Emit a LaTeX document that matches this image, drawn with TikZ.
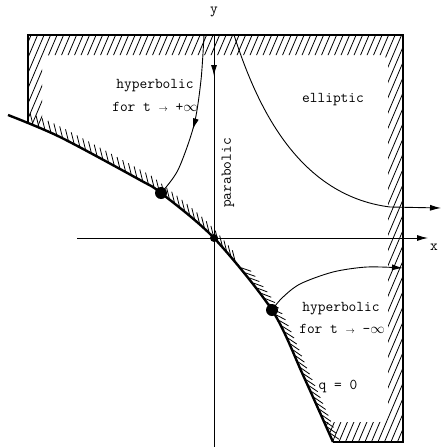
\documentclass[tikz,border=0pt]{standalone}
\usepackage{fontspec}
\usetikzlibrary{arrows.meta,decorations.markings}
\newcommand{\smallarrow}{{\fontsize{9}{9}\selectfont$\rightarrow$}}
\begin{document}
\begin{tikzpicture}[x=1pt,y=-1pt,
  thinline/.style={line width=0.9pt},
  hatchline/.style={line width=0.8pt},
  lbl/.style={font=\ttfamily\fontsize{15}{16}\selectfont, inner sep=0pt},
  tipend/.style={-{Latex[length=11pt,width=6pt]}},
  midtip/.style={postaction={decorate,decoration={markings,
     mark=at position #1 with {\arrow{Latex[length=11pt,width=6pt]}}}}},
]
\useasboundingbox (0,0) rectangle (442,447);

% named points
\coordinate (d1) at (161,193);
\coordinate (o) at (214,238);
\coordinate (d2) at (272,310);
\coordinate (yt) at (214,35);
\coordinate (yb) at (214,447);
\coordinate (xl) at (77,238);
\coordinate (xr) at (428,238);
\coordinate (h1) at (204,35);
\coordinate (e1) at (234,35);
\coordinate (e3) at (390,207);
\coordinate (e2) at (441,208);
\coordinate (h2) at (403,268);

% box hatching
\begin{scope}
  \clip (28,35) rectangle (403,442);
  \clip (28,35) -- (403,35) -- (403,442) -- plot[smooth] coordinates {(333,442) (303,375) (272,310) (214,238) (161,193) (140,180) (60,137) (8,115)} -- (8,35) -- cycle;
  \begin{scope}[even odd rule]
  \clip (0,0) rectangle (442,447) [rounded corners=8pt] (42,55) rectangle (388,422);
  \foreach \i in {-230,-223.5,...,460} \draw[hatchline] (\i,450) -- ++(200,-470);
  \end{scope}
\end{scope}

% box outline
\draw[line width=1.3pt] (28,123) -- (28,35) -- (403,35) -- (403,442) -- (333,442);

% boundary curve with hatching ticks
\draw[line width=2.4pt, postaction={decorate,decoration={markings,
  mark=between positions 27pt and 275pt step 6.5pt with {\pgftransformresetnontranslations \draw[hatchline] (0pt,0pt) -- (-3pt,12pt);},
  mark=between positions 281pt and -4pt step 6.5pt with {\draw[hatchline] (1pt,1pt) -- (10pt,6.5pt);}
  }}]
  plot[smooth] coordinates {(8,115) (60,137) (140,180) (d1) (o) (d2) (303,375) (333,442)};

% axes
\draw[thinline, tipend] (xl) -- (xr);
\draw[thinline, midtip=41pt] (yt) -- (yb);

% trajectories
\draw[thinline, midtip=0.57] plot[smooth] coordinates {(h1) (201,80) (194,125) (178,170) (d1)};
\draw[thinline, tipend] (e1) .. controls (255,100) and (295,195) .. (e3) -- (e2);
\draw[thinline, tipend] plot[smooth] coordinates {(d2) (282,298) (300,284) (333,272) (367,267) (h2)};

% dots
\fill (d1) circle (6pt);
\fill (d2) circle (6pt);
\fill (o) circle (4pt);

% labels
\node[lbl] (ly) at (214,12) {y};
\node[lbl] (lx) at (434,247) {x};
\node[lbl] (lh1) at (155,86) {hyperbolic};
\node[lbl] (lf1) at (155,107) {for t \smallarrow{} +$\infty$};
\node[lbl] (lel) at (333,100) {elliptic};
\begin{scope}[y=1pt]
\node[lbl, rotate=90] (lpar) at (228,-173) {parabolic};
\end{scope}
\node[lbl] (lh2) at (341,309) {hyperbolic};
\node[lbl] (lf2) at (342,329) {for t \smallarrow{} -$\infty$};
\node[lbl] (lq) at (338,386) {q = 0};
\end{tikzpicture}
\end{document}
